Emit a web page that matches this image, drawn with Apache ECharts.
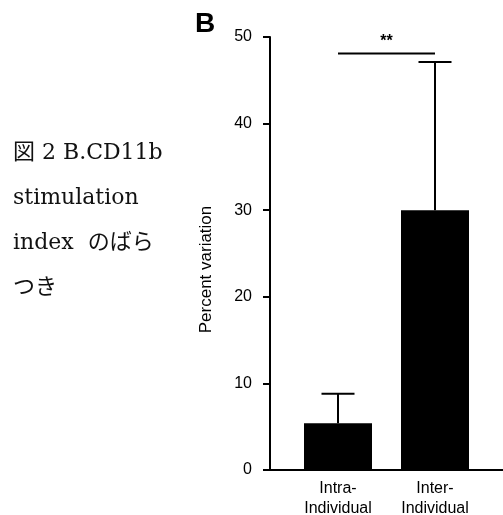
<!DOCTYPE html>
<html>
<head>
<meta charset="utf-8">
<script src="https://cdn.jsdelivr.net/npm/echarts@6/dist/echarts.min.js"></script>
<style>
  html, body { margin: 0; padding: 0; background: #fff; }
  #main { width: 503px; height: 515px; }
</style>
</head>
<body>
<div id="main"></div>
<script>
var categories = ['Intra-\nIndividual', 'Inter-\nIndividual'];
var means = [5.4, 30];
var errorTops = [8.8, 47.1];
var sigLevel = 48.1;
var yTicks = [0, 10, 20, 30, 40, 50];

var chart = echarts.init(document.getElementById('main'));

var errorData = categories.map(function (c, i) {
    return [i, means[i], errorTops[i]];
});

var option = {
    animation: false,
    backgroundColor: '#fff',
    title: {
        text: 'B',
        left: 190,
        top: 5,
        textStyle: { fontSize: 28, fontWeight: 'bold', color: '#000', fontFamily: 'Liberation Sans' }
    },
    graphic: [{
        type: 'text',
        left: 13,
        top: 131,
        style: {
            text: '図 2 B.CD11b\nstimulation\nindex  のばら\nつき',
            font: '22px "DejaVu Serif", "Noto Sans CJK JP"',
            lineHeight: 45,
            fill: '#111'
        }
    }],
    grid: [
        { left: 289.5, width: 194, top: 37, bottom: 45, outerBoundsMode: 'none', containLabel: false },
        { left: 270, right: 0, top: 37, bottom: 45, outerBoundsMode: 'none', containLabel: false }
    ],
    xAxis: [{
        type: 'category',
        gridIndex: 0,
        data: categories,
        axisLine: { show: false },
        axisTick: { show: false },
        axisLabel: {
            margin: 9,
            fontSize: 16,
            lineHeight: 20,
            color: '#000',
            fontFamily: 'Liberation Sans'
        }
    }, {
        type: 'value',
        gridIndex: 1,
        min: 0,
        max: 1,
        axisLine: { show: true, lineStyle: { color: '#000', width: 2 } },
        axisTick: { show: false },
        axisLabel: { show: false },
        splitLine: { show: false }
    }],
    yAxis: [{
        type: 'value',
        gridIndex: 0,
        min: 0,
        max: 50,
        show: false
    }, {
        type: 'value',
        gridIndex: 1,
        min: 0,
        max: 50,
        interval: 10,
        name: 'Percent variation',
        nameLocation: 'middle',
        nameGap: 55,
        nameTextStyle: {
            fontSize: 17,
            color: '#000',
            fontFamily: 'Liberation Sans',
            padding: [0, 32, 0, 0]
        },
        axisLine: { show: true, lineStyle: { color: '#000', width: 2 } },
        axisTick: { show: true, length: 7, lineStyle: { color: '#000', width: 2 } },
        axisLabel: {
            margin: 18,
            fontSize: 16,
            color: '#000',
            fontFamily: 'Liberation Sans',
            customValues: yTicks
        },
        splitLine: { show: false }
    }],
    series: [{
        type: 'bar',
        xAxisIndex: 0,
        yAxisIndex: 0,
        data: means,
        barWidth: 68,
        itemStyle: { color: '#000' },
        z: 3
    }, {
        type: 'custom',
        xAxisIndex: 0,
        yAxisIndex: 0,
        data: errorData,
        z: 2,
        renderItem: function (params, api) {
            var base = api.coord([api.value(0), api.value(1)]);
            var top = api.coord([api.value(0), api.value(2)]);
            var half = 16.5;
            var style = { stroke: '#000', lineWidth: 2 };
            return {
                type: 'group',
                children: [{
                    type: 'line',
                    shape: { x1: base[0], y1: base[1], x2: top[0], y2: top[1] },
                    style: style
                }, {
                    type: 'line',
                    shape: { x1: top[0] - half, y1: top[1], x2: top[0] + half, y2: top[1] },
                    style: style
                }]
            };
        }
    }, {
        type: 'custom',
        xAxisIndex: 0,
        yAxisIndex: 0,
        data: [[0, 1, sigLevel]],
        renderItem: function (params, api) {
            var a = api.coord([api.value(0), api.value(2)]);
            var b = api.coord([api.value(1), api.value(2)]);
            return {
                type: 'group',
                children: [{
                    type: 'line',
                    shape: { x1: a[0], y1: a[1], x2: b[0], y2: b[1] },
                    style: { stroke: '#000', lineWidth: 2 }
                }, {
                    type: 'text',
                    style: {
                        text: '**',
                        x: (a[0] + b[0]) / 2,
                        y: a[1] - 4,
                        align: 'center',
                        verticalAlign: 'bottom',
                        font: 'bold 16px "Liberation Sans"',
                        fill: '#000'
                    }
                }]
            };
        }
    }]
};

chart.setOption(option);
</script>
</body>
</html>
